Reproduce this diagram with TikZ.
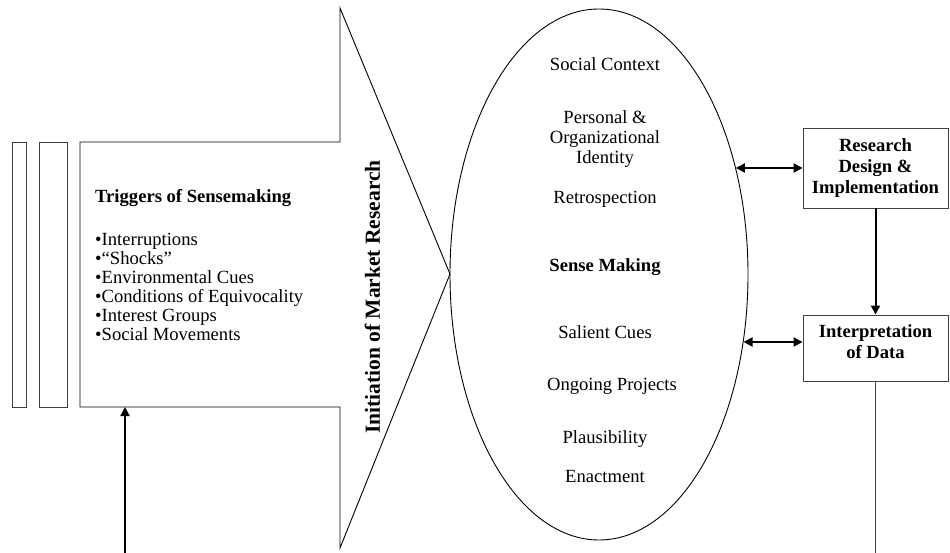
\documentclass[tikz,border=0pt]{standalone}
\usepackage{fontspec}
\setmainfont{Liberation Serif}
\usetikzlibrary{shapes.geometric,arrows.meta}
\begin{document}
\begin{tikzpicture}[x=1pt,y=-1pt,
  outline/.style={draw=black, line width=0.9pt},
  grayline/.style={draw=black!75, line width=0.9pt},
  txt/.style={inner sep=0pt, font=\fontsize{18.6pt}{19pt}\selectfont},
  btxt/.style={inner sep=0pt, font=\fontsize{18.6pt}{21pt}\selectfont\bfseries},
  boxnode/.style={grayline, minimum width=145pt, inner sep=0pt, align=center,
    font=\fontsize{18.6pt}{21pt}\selectfont\bfseries},
  heavyarrow/.style={line width=2pt, -{Triangle[length=9pt,width=9pt]}},
  dblarrow/.style={line width=2pt, {Triangle[length=9pt,width=9pt]}-{Triangle[length=9pt,width=9pt]}}
]
\useasboundingbox (0,0) rectangle (950,553);

% stacked strips on the left
\draw[grayline] (12,142) rectangle (26,407);
\draw[grayline] (39,142) rectangle (67,407);

% big arrow
\coordinate (a1) at (80,142);
\coordinate (a2) at (340,142);
\coordinate (a3) at (340,8);
\coordinate (tip) at (450,274);
\coordinate (a5) at (340,548);
\coordinate (a6) at (340,407);
\coordinate (a7) at (80,407);
\draw[outline] (a1) -- (a2) -- (a3) -- (tip) -- (a5) -- (a6) -- (a7) -- cycle;

\node[btxt, anchor=base west] (trighead) at (95,203) {Triggers of Sensemaking};
\node[txt, anchor=north west, align=left] (triglist) at (95,232.7)
  {•Interruptions\\•“Shocks”\\•Environmental Cues\\•Conditions of Equivocality\\•Interest Groups\\•Social Movements};

\node[inner sep=0pt, font=\fontsize{21.5pt}{24pt}\selectfont\bfseries, rotate=90] (init) at (372.5,297) {Initiation of Market Research};

% sensemaking ellipse
\node[outline, ellipse, minimum width=298pt, minimum height=531pt, inner sep=0pt] (ell) at (599,274.5) {};
\node[txt, anchor=base] (sc) at (605,71) {Social Context};
\node[txt, align=center, font=\fontsize{18.6pt}{20pt}\selectfont] (pid) at (605,139) {Personal \&\\Organizational\\Identity};
\node[txt, anchor=base] (retro) at (605,204) {Retrospection};
\node[btxt, anchor=base] (sm) at (605,272) {Sense Making};
\node[txt, anchor=base] (sal) at (605,338) {Salient Cues};
\node[txt, anchor=base] (ong) at (612,390) {Ongoing Projects};
\node[txt, anchor=base] (pla) at (605,443) {Plausibility};
\node[txt, anchor=base] (ena) at (605,482) {Enactment};

% right boxes
\node[boxnode, minimum height=80pt] (res) at (875.5,168) {Research\\Design \&\\Implementation};
\node[boxnode, minimum height=66pt] (interp) at (875.5,348) {};
\node[btxt, align=center] (itxt) at (875.5,342) {Interpretation\\of Data};

% connectors
\draw[dblarrow] (res.west -| ell.38) -- (res.west);
\draw[dblarrow] (itxt.center -| ell.-25) -- (itxt.center -| interp.west);
\draw[heavyarrow] (res.south) -- (interp.north);
\coordinate (sink) at (875.5,553);
\draw[grayline] (interp.south) -- (sink);
\coordinate (src) at (125,553);
\draw[heavyarrow] (src) -- (src |- a7);
\end{tikzpicture}
\end{document}
